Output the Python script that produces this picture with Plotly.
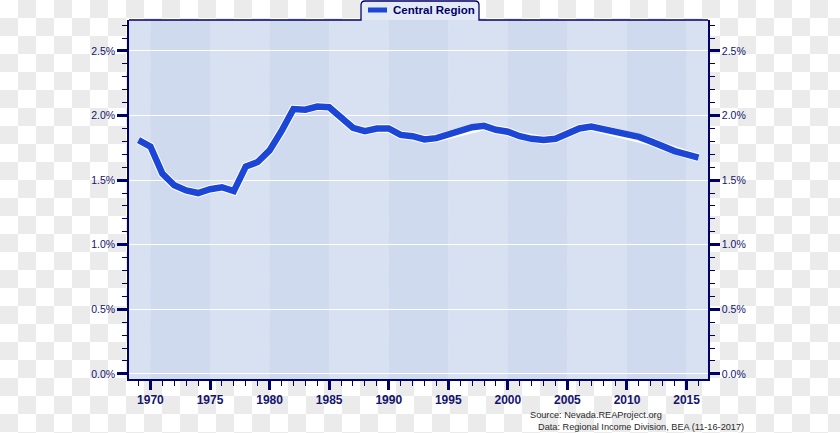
import plotly.graph_objects as go

# Central Region share, percent of total, 1969-2016
years = list(range(1969, 2017))
share = [1.81, 1.76, 1.55, 1.46, 1.42, 1.40, 1.43, 1.445, 1.415, 1.605, 1.64, 1.73,
         1.88, 2.05, 2.045, 2.07, 2.065, 1.985, 1.905, 1.88, 1.90, 1.90,
         1.85, 1.84, 1.815, 1.825, 1.85, 1.88, 1.91, 1.92, 1.89, 1.875,
         1.84, 1.82, 1.81, 1.82, 1.865, 1.90, 1.915, 1.895, 1.875, 1.855,
         1.835, 1.80, 1.76, 1.725, 1.70, 1.675]
series_name = "Central Region"
source_lines = ["Source: Nevada.REAProject.org",
                "Data: Regional Income Division, BEA (11-16-2017)"]

W, H = 840, 433
L, R, T, B = 129, 708, 20, 379
NAVY = "#000066"
BLUE = "#1b46d6"
FONT = "Liberation Sans, Arial, sans-serif"
xr = [1968.2, 2016.8]
yr = [-0.04, 2.74]


def px(x):
    return (x - L) / (R - L)


def py(y):
    return (B - y) / (B - T)


shapes = []

# transparency checkerboard behind the chart
sq = 18
parts = []
for r in range(H // sq + 1):
    for c in range(W // sq + 1):
        if (r + c) % 2 == 1:
            x0, x1 = px(c * sq), px(min((c + 1) * sq, W))
            y0, y1 = py(r * sq), py(min((r + 1) * sq, H))
            parts.append(f"M{x0:.5f},{y0:.5f}H{x1:.5f}V{y1:.5f}H{x0:.5f}Z")
shapes.append(dict(type="path", xref="paper", yref="paper", path="".join(parts),
                   fillcolor="#ebebeb", line=dict(width=0), layer="below"))

# alternating five-year bands
for i, start in enumerate(range(1965, 2020, 5)):
    shapes.append(dict(type="rect", xref="x", yref="paper",
                       x0=max(start, xr[0]), x1=min(start + 5, xr[1]), y0=0, y1=1,
                       fillcolor="#cfdaee" if start % 10 == 0 else "#d8e1f2",
                       line=dict(width=0), layer="below"))

# top border with legend tab
tab = (f"M{px(L)},{py(T)}L{px(361)},{py(T)}L{px(361)},{py(5)}"
       f"Q{px(361)},{py(1)} {px(365)},{py(1)}L{px(475)},{py(1)}"
       f"Q{px(479)},{py(1)} {px(479)},{py(5)}L{px(479)},{py(T)}L{px(R)},{py(T)}")
shapes.append(dict(type="path", xref="paper", yref="paper", path=tab,
                   fillcolor="#e3eaf6", line=dict(color=NAVY, width=1.3), layer="above"))
shapes.append(dict(type="line", xref="paper", yref="paper",
                   x0=px(368), x1=px(387), y0=py(10), y1=py(10),
                   line=dict(color=BLUE, width=5), layer="above"))

fig = go.Figure()
fig.add_trace(go.Scatter(x=years, y=share, mode="lines", yaxis="y",
                         line=dict(color="white", width=8.5),
                         showlegend=False, hoverinfo="skip"))
fig.add_trace(go.Scatter(x=years, y=share, mode="lines", yaxis="y2", name=series_name,
                         line=dict(color=BLUE, width=6.5), showlegend=False,
                         hovertemplate="%{x}: %{y:.2f}%<extra></extra>"))

annotations = [dict(text=f"<b>{series_name}</b>", xref="paper", yref="paper",
                    x=px(391), y=py(10.5), xanchor="left", yanchor="middle",
                    showarrow=False, font=dict(family=FONT, size=11.5, color=NAVY))]
for i, (txt, xs) in enumerate(zip(source_lines, [528, 536])):
    annotations.append(dict(text=txt, xref="paper", yref="paper",
                            x=px(xs), y=py(415 + i * 12), xanchor="left", yanchor="middle",
                            showarrow=False, font=dict(family=FONT, size=9.2, color="#2a2a2a")))

yaxis_common = dict(range=yr, dtick=0.5, tick0=0, tickformat=".1f", ticksuffix="%",
                    ticks="outside", ticklen=10, tickwidth=2.5, tickcolor=NAVY,
                    showline=True, linecolor=NAVY, linewidth=1.5,
                    tickfont=dict(family=FONT, size=10.5, color="#14146e"),
                    minor=dict(dtick=0.1, tick0=0, ticks="outside", ticklen=5,
                               tickwidth=1.3, tickcolor=NAVY, showgrid=False),
                    fixedrange=True)

fig.update_layout(
    width=W, height=H,
    margin=dict(l=L, r=W - R, t=T, b=H - B, pad=0),
    paper_bgcolor="white", plot_bgcolor="#d8e1f2",
    shapes=shapes, annotations=annotations, showlegend=False,
    xaxis=dict(range=xr, dtick=5, tick0=1970, ticks="outside", ticklen=9, tickwidth=2.5,
               tickcolor=NAVY, showline=True, linecolor=NAVY, linewidth=1.5,
               showgrid=False, zeroline=False,
               tickfont=dict(family=FONT, size=12, color="#14146e"),
               tickprefix="<b>", ticksuffix="</b>",
               minor=dict(dtick=1, ticks="outside", ticklen=5, tickwidth=1.3,
                          tickcolor=NAVY, showgrid=False),
               fixedrange=True),
    yaxis=dict(side="left", showgrid=True, gridcolor="white", gridwidth=1,
               zeroline=True, zerolinecolor="white", zerolinewidth=1, **yaxis_common),
    yaxis2=dict(side="right", overlaying="y", anchor="x", showgrid=False,
                zeroline=False, **yaxis_common),
)

# page body has an 8px default margin; drop it so the figure sits at 0,0
fig.write_html("out.html", config={"displayModeBar": False},
               post_script="document.body.style.margin='0';")
